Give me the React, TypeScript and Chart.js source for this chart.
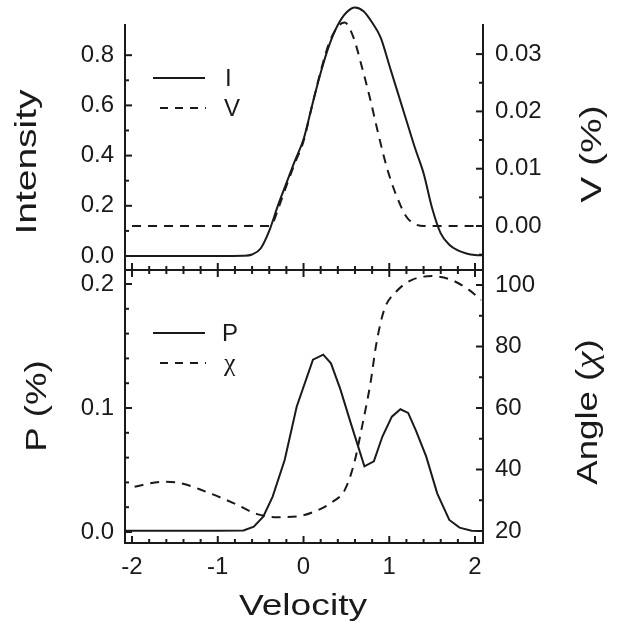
import React, { useEffect, useRef } from "react";
import { Chart, registerables } from "chart.js";

Chart.register(...registerables);

// ---------------- data ----------------
const velocityI = [-2.08, -1.5, -1.0, -0.7, -0.6, -0.5, -0.4, -0.3, -0.2, -0.1, 0.0, 0.1, 0.2, 0.3, 0.4, 0.5, 0.6, 0.7, 0.8, 0.9, 1.0, 1.1, 1.2, 1.3, 1.4, 1.5, 1.6, 1.7, 1.8, 1.9, 2.0, 2.09];
const intensity = [0, 0, 0, 0.001, 0.006, 0.03, 0.1, 0.2, 0.29, 0.38, 0.465, 0.6, 0.73, 0.84, 0.92, 0.97, 0.99, 0.975, 0.93, 0.87, 0.76, 0.65, 0.54, 0.43, 0.33, 0.19, 0.09, 0.045, 0.022, 0.01, 0.004, 0.003];

const velocityV = [-2.0, -1.0, -0.4, -0.35, -0.3, -0.2, -0.1, 0.0, 0.1, 0.2, 0.3, 0.4, 0.48, 0.58, 0.68, 0.78, 0.87, 0.97, 1.07, 1.2, 1.28, 1.4, 2.0, 2.09];
const stokesV = [0, 0, 0, 0.0008, 0.0028, 0.007, 0.011, 0.0148, 0.021, 0.027, 0.032, 0.0348, 0.0355, 0.033, 0.0278, 0.022, 0.0162, 0.0103, 0.0058, 0.0016, 0.0005, 0, 0, 0];

const velocityP = [-2.08, -1.0, -0.7, -0.58, -0.47, -0.36, -0.22, -0.08, 0.11, 0.23, 0.32, 0.43, 0.55, 0.71, 0.82, 0.92, 1.03, 1.13, 1.22, 1.31, 1.43, 1.56, 1.7, 1.82, 1.96, 2.08];
const polP = [0.001, 0.001, 0.0012, 0.0043, 0.0123, 0.0285, 0.058, 0.101, 0.139, 0.143, 0.136, 0.115, 0.088, 0.053, 0.057, 0.077, 0.093, 0.099, 0.096, 0.082, 0.061, 0.031, 0.0097, 0.0035, 0.001, 0.0008];

const velocityChi = [-1.97, -1.65, -1.46, -1.14, -0.81, -0.54, -0.31, -0.08, 0.16, 0.34, 0.48, 0.59, 0.69, 0.78, 0.85, 0.94, 1.08, 1.26, 1.5, 1.73, 1.93, 2.07];
const chiAngle = [34.4, 36.0, 35.7, 32.8, 29.0, 25.5, 24.5, 24.7, 26.7, 29.5, 33.3, 42.0, 55.0, 68.0, 81.0, 91.9, 97.8, 101.6, 102.9, 101.6, 98.4, 95.1];

const xMajorTicks = [-2, -1, 0, 1, 2];
const xMinorTicks = [-1.8, -1.6, -1.4, -1.2, -0.8, -0.6, -0.4, -0.2, 0.2, 0.4, 0.6, 0.8, 1.2, 1.4, 1.6, 1.8];
const intensityTicks = [0, 0.2, 0.4, 0.6, 0.8];
const intensityMinor = [0.1, 0.3, 0.5, 0.7];
const vTicks = [0, 0.01, 0.02, 0.03];
const vMinor = [-0.005, 0.005, 0.015, 0.025];
const pTicks = [0, 0.1, 0.2];
const pMinor = [0.02, 0.04, 0.06, 0.08, 0.12, 0.14, 0.16, 0.18];
const angleTicks = [20, 40, 60, 80, 100];
const angleMinor = [30, 50, 70, 90];

// ---------------- style ----------------
const INK = "#1a1a1a";
const FONT = "'Liberation Sans', Arial, sans-serif";
const SERIF = "'Liberation Serif', 'DejaVu Serif', serif";
const TICK_FONT = { family: FONT, size: 24 };
const X_MIN = -2.082;
const X_MAX = 2.093;
const TOP_OFFSET = 250; // page y of bottom canvas

function seg(ctx: CanvasRenderingContext2D, x1: number, y1: number, x2: number, y2: number) {
  ctx.beginPath();
  ctx.moveTo(x1, y1);
  ctx.lineTo(x2, y2);
  ctx.stroke();
}

type Piece = { s: string; font: string };

// draws a sequence of text pieces, centred at (x, y) baseline, optionally rotated and stretched
function richText(ctx: CanvasRenderingContext2D, pieces: Piece[], x: number, y: number, rotate = 0, stretch = 1, align: "center" | "left" = "center") {
  ctx.save();
  ctx.translate(x, y);
  if (rotate) ctx.rotate(rotate);
  ctx.scale(stretch, 1);
  ctx.fillStyle = INK;
  ctx.textBaseline = "alphabetic";
  ctx.textAlign = "left";
  let total = 0;
  const widths = pieces.map((p) => {
    ctx.font = p.font;
    const w = ctx.measureText(p.s).width;
    total += w;
    return w;
  });
  let cx = align === "center" ? -total / 2 : 0;
  pieces.forEach((p, i) => {
    ctx.font = p.font;
    ctx.fillText(p.s, cx, 0);
    cx += widths[i];
  });
  ctx.restore();
}

function text(ctx: CanvasRenderingContext2D, s: string, x: number, y: number, size: number, rotate = 0, stretch = 1, align: "center" | "left" = "center", family = FONT) {
  richText(ctx, [{ s, font: `${size}px ${family}` }], x, y, rotate, stretch, align);
}

function yTicks(ctx: CanvasRenderingContext2D, scale: any, values: number[], edge: number, dir: number, len: number) {
  for (const v of values) {
    const p = scale.getPixelForValue(v);
    seg(ctx, edge, p, edge + dir * len, p);
  }
}
function xTicks(ctx: CanvasRenderingContext2D, scale: any, values: number[], edge: number, dir: number, len: number) {
  for (const v of values) {
    const p = scale.getPixelForValue(v);
    seg(ctx, p, edge, p, edge + dir * len);
  }
}

function legendRow(ctx: CanvasRenderingContext2D, y: number, dashed: boolean, label: string, labelX: number, size = 24, family = FONT) {
  ctx.save();
  ctx.strokeStyle = INK;
  ctx.lineWidth = 2;
  if (dashed) {
    ctx.setLineDash([8, 7]);
    seg(ctx, 160, y, 206, y);
  } else {
    seg(ctx, 153, y, 205, y);
  }
  ctx.restore();
  text(ctx, label, labelX, y + 8, size, 0, 1, "left", family);
}

const topDecor = {
  id: "topDecor",
  afterDraw(chart: any) {
    const ctx: CanvasRenderingContext2D = chart.ctx;
    const { left, right, bottom } = chart.chartArea;
    const { x, yL, yR } = chart.scales;
    ctx.save();
    ctx.strokeStyle = INK;
    ctx.lineWidth = 2;
    seg(ctx, left - 1, bottom, right + 1, bottom);
    xTicks(ctx, x, xMajorTicks, bottom, -1, 7);
    xTicks(ctx, x, xMinorTicks, bottom, -1, 4);
    yTicks(ctx, yL, intensityTicks, left, 1, 7);
    yTicks(ctx, yL, intensityMinor, left, 1, 4);
    yTicks(ctx, yR, vTicks, right, -1, 7);
    yTicks(ctx, yR, vMinor, right, -1, 4);
    ctx.restore();
    legendRow(ctx, 78, false, "I", 225);
    legendRow(ctx, 108, true, "V", 224);
    text(ctx, "Intensity", 36, 162, 30, -Math.PI / 2, 1.3);
    text(ctx, "V (%)", 601, 154, 30, -Math.PI / 2, 1.3);
  },
};

const bottomDecor = {
  id: "bottomDecor",
  afterDraw(chart: any) {
    const ctx: CanvasRenderingContext2D = chart.ctx;
    const { left, right, top, bottom } = chart.chartArea;
    const { x, yL, yR } = chart.scales;
    ctx.save();
    ctx.strokeStyle = INK;
    ctx.lineWidth = 2;
    seg(ctx, left - 1, top, right + 1, top);
    xTicks(ctx, x, xMajorTicks, top, 1, 7);
    xTicks(ctx, x, xMinorTicks, top, 1, 4);
    xTicks(ctx, x, xMajorTicks, bottom, -1, 7);
    xTicks(ctx, x, xMinorTicks, bottom, -1, 4);
    yTicks(ctx, yL, pTicks, left, 1, 7);
    yTicks(ctx, yL, pMinor, left, 1, 4);
    yTicks(ctx, yR, angleTicks, right, -1, 7);
    yTicks(ctx, yR, angleMinor, right, -1, 4);
    ctx.restore();
    const o = TOP_OFFSET;
    legendRow(ctx, 333 - o, false, "P", 222);
    legendRow(ctx, 363 - o, true, "χ", 224, 26, SERIF);
    text(ctx, "P (%)", 46, 406 - o, 30, -Math.PI / 2, 1.22);
    richText(
      ctx,
      [
        { s: "Angle (", font: `30px ${FONT}` },
        { s: "χ", font: `italic 32px ${SERIF}` },
        { s: ")", font: `30px ${FONT}` },
      ],
      597,
      412 - o,
      -Math.PI / 2,
      1.22
    );
    text(ctx, "Velocity", 303, 615 - o, 30, 0, 1.24);
  },
};

function pts(xs: number[], ys: number[]) {
  return xs.map((x, i) => ({ x, y: ys[i] }));
}

function yAxis(position: "left" | "right", min: number, max: number, values: number[], width: number, digits: number) {
  return {
    type: "linear",
    position,
    min,
    max,
    afterBuildTicks: (s: any) => {
      s.ticks = values.map((v) => ({ value: v }));
    },
    afterFit: (s: any) => {
      s.width = width;
      s.paddingTop = 0;
      s.paddingBottom = 0;
      s.paddingLeft = 0;
      s.paddingRight = 0;
    },
    ticks: {
      font: TICK_FONT,
      color: INK,
      padding: position === "left" ? 11 : 12,
      callback: (v: any) => Number(v).toFixed(digits),
    },
    grid: { display: false, drawTicks: false },
    border: { display: true, color: INK, width: 2 },
  };
}

const lineStyle = {
  borderColor: INK,
  borderWidth: 2,
  pointRadius: 0,
  fill: false,
  clip: false,
};

export default function App() {
  const topRef = useRef<HTMLCanvasElement>(null);
  const botRef = useRef<HTMLCanvasElement>(null);

  useEffect(() => {
    const c1 = new Chart(topRef.current as HTMLCanvasElement, {
      type: "line",
      data: {
        datasets: [
          { ...lineStyle, label: "I", data: pts(velocityI, intensity), yAxisID: "yL", cubicInterpolationMode: "monotone" },
          { ...lineStyle, label: "V", data: pts(velocityV, stokesV), yAxisID: "yR", borderDash: [9, 7], cubicInterpolationMode: "monotone" },
        ],
      } as any,
      options: {
        responsive: false,
        animation: false,
        layout: { padding: { top: 25, bottom: 20, left: 0, right: 0 } },
        plugins: { legend: { display: false }, tooltip: { enabled: false } },
        scales: {
          x: { type: "linear", min: X_MIN, max: X_MAX, display: false },
          yL: yAxis("left", -0.0558, 0.9203, intensityTicks, 125, 1),
          yR: yAxis("right", -0.00768, 0.03508, vTicks, 138, 2),
        },
      } as any,
      plugins: [topDecor],
    });

    const c2 = new Chart(botRef.current as HTMLCanvasElement, {
      type: "line",
      data: {
        datasets: [
          { ...lineStyle, label: "P", data: pts(velocityP, polP), yAxisID: "yL", tension: 0 },
          { ...lineStyle, label: "χ", data: pts(velocityChi, chiAngle), yAxisID: "yR", borderDash: [9, 7], cubicInterpolationMode: "monotone" },
        ],
      } as any,
      options: {
        responsive: false,
        animation: false,
        layout: { padding: { top: 20, bottom: 0, left: 0, right: 0 } },
        plugins: { legend: { display: false }, tooltip: { enabled: false } },
        scales: {
          x: {
            type: "linear",
            position: "bottom",
            min: X_MIN,
            max: X_MAX,
            afterBuildTicks: (s: any) => {
              s.ticks = xMajorTicks.map((v) => ({ value: v }));
            },
            afterFit: (s: any) => {
              s.height = 91;
              s.paddingLeft = 0;
              s.paddingRight = 0;
              s.paddingTop = 0;
              s.paddingBottom = 0;
            },
            ticks: { font: TICK_FONT, color: INK, padding: 10, callback: (v: any) => String(v) },
            grid: { display: false, drawTicks: false },
            border: { display: true, color: INK, width: 2 },
          },
          yL: yAxis("left", -0.00887, 0.2113, pTicks, 125, 1),
          yR: yAxis("right", 16.1, 104.88, angleTicks, 138, 0),
        },
      } as any,
      plugins: [bottomDecor],
    });

    return () => {
      c1.destroy();
      c2.destroy();
    };
  }, []);

  return (
    <div style={{ position: "absolute", left: 0, top: 0, width: 621, height: 634, background: "#fff" }}>
      <canvas ref={topRef} width={621} height={290} style={{ position: "absolute", left: 0, top: 0 }} />
      <canvas ref={botRef} width={621} height={384} style={{ position: "absolute", left: 0, top: TOP_OFFSET }} />
    </div>
  );
}
